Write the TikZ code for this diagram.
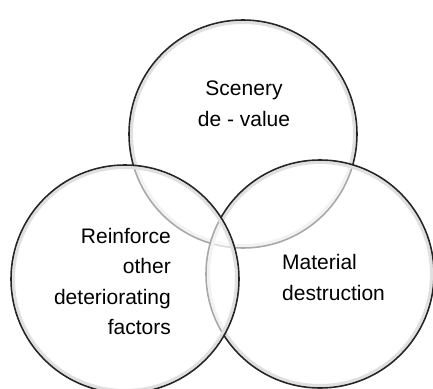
\documentclass[tikz,border=0pt]{standalone}
\usepackage{fontspec}
\setmainfont{Liberation Sans}
\begin{document}
\begin{tikzpicture}[x=1pt,y=-1pt,line join=round,
	vong/.style={fill=white,fill opacity=0.6,draw=none},
	chu/.style={inner sep=0pt,font=\fontsize{21}{30.5}\selectfont}]
	%==thông số
	\def\r{114}
	%==============
	\useasboundingbox (0,0) rectangle (433,388);
	\coordinate (T) at (243,134);
	\coordinate (P) at (320,274);
	\coordinate (L) at (125,279);
	\foreach \i in {T,P,L}{
		\fill[vong] (\i) circle[radius=\r pt];
		\draw[black!12,line width=3pt] (\i) circle[radius=\r pt-2.5pt];
		\draw[black!85,line width=1.6pt] (\i) circle[radius=\r pt];
	}
	\node[chu,align=center] (canh) at (244,104) {Scenery\\de - value};
	\node[chu,align=right,anchor=east] (gia) at (171,281.5) {Reinforce\\other\\deteriorating\\factors};
	\node[chu,align=left,anchor=west] (vatlieu) at (282,277.5) {Material\\destruction};
\end{tikzpicture}
\end{document}
